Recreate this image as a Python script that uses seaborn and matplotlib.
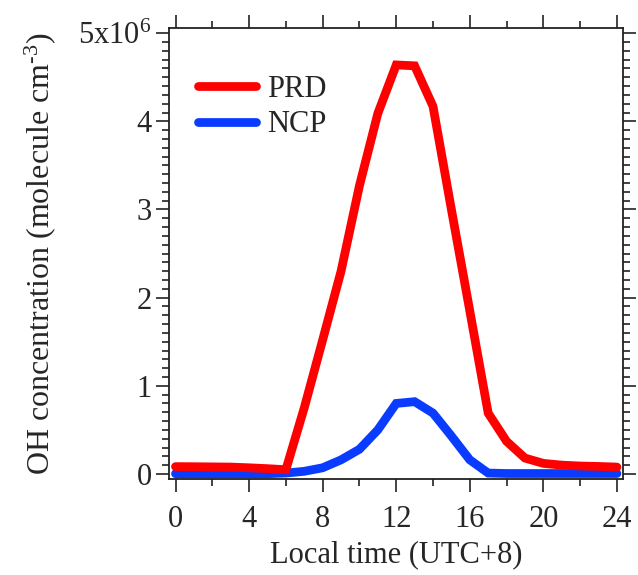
import matplotlib
matplotlib.use("Agg")
import matplotlib.pyplot as plt
import seaborn as sns
import pandas as pd
from matplotlib.ticker import MultipleLocator, FixedLocator, FixedFormatter
from matplotlib.lines import Line2D

# ---- data (OH concentration, units of 1e6 molecule cm^-3) ----
hours = list(range(0, 25))
prd = [0.083, 0.082, 0.080, 0.078, 0.070, 0.060, 0.048, 0.75, 1.52, 2.30, 3.27, 4.09,
       4.64, 4.63, 4.17, 3.00, 1.85, 0.69, 0.37, 0.18, 0.12, 0.10, 0.09, 0.085, 0.078]
ncp = [0.003, 0.003, 0.003, 0.003, 0.003, 0.003, 0.01, 0.03, 0.07, 0.16, 0.28, 0.50,
       0.80, 0.82, 0.69, 0.43, 0.16, 0.01, 0.005, 0.005, 0.005, 0.005, 0.005, 0.005, 0.005]
regions = ["PRD", "NCP"]
colors = {"PRD": "#ff0000", "NCP": "#0a3cff"}
xticks = [0, 4, 8, 12, 16, 20, 24]
yticks = [0, 1, 2, 3, 4, 5]
yticklabels = ["0", "1", "2", "3", "4", r"5x10$^{6}$"]

df = pd.DataFrame({
    "hour": hours * 2,
    "oh": ncp + prd,
    "region": ["NCP"] * len(hours) + ["PRD"] * len(hours),
})

sns.set_theme(style="ticks")
plt.rcParams["font.family"] = ["Liberation Serif", "DejaVu Serif"]
plt.rcParams["mathtext.fontset"] = "custom"
plt.rcParams["mathtext.rm"] = "Liberation Serif"
plt.rcParams["mathtext.it"] = "Liberation Serif:italic"
plt.rcParams["axes.unicode_minus"] = False

fig = plt.figure(figsize=(6.38, 5.75), dpi=100)
ax = fig.add_axes([0.265, 0.167, 0.9765 - 0.265, 0.951 - 0.167])

sns.lineplot(data=df, x="hour", y="oh", hue="region", hue_order=["NCP", "PRD"],
             palette=colors, linewidth=6.3, legend=False, ax=ax,
             solid_joinstyle="miter")

ax.set_xlim(-0.35, 24.33)
ax.set_ylim(-0.057, 5.057)

ax.xaxis.set_major_locator(FixedLocator(xticks))
ax.xaxis.set_minor_locator(MultipleLocator(2))
ax.yaxis.set_major_locator(FixedLocator(yticks))
ax.yaxis.set_major_formatter(FixedFormatter(yticklabels))
ax.yaxis.set_minor_locator(MultipleLocator(0.1))

for s in ax.spines.values():
    s.set_linewidth(1.3)
    s.set_color("#222222")

ax.tick_params(which="both", direction="out", top=True, right=True,
               color="#222222", width=1.2)
ax.tick_params(which="major", length=9.5, labelsize=22)
ax.tick_params(which="minor", length=5)
ax.tick_params(axis="x", which="major", pad=9.5)
ax.tick_params(axis="y", which="major", pad=3)

ax.set_xlabel("Local time (UTC+8)", fontsize=22, labelpad=4)
ax.set_ylabel("OH concentration (molecule cm$^{\\text{-3}}$)", fontsize=23, labelpad=15)

handles = [Line2D([], [], color=colors[r], linewidth=6.3) for r in regions]
ax.legend(handles, regions, loc="upper left", bbox_to_anchor=(0.064, 0.897),
          frameon=False, fontsize=22, handlelength=1.9, handletextpad=0.36,
          labelspacing=0.22, borderpad=0, borderaxespad=0)

fig.savefig("out.png", dpi=100)
